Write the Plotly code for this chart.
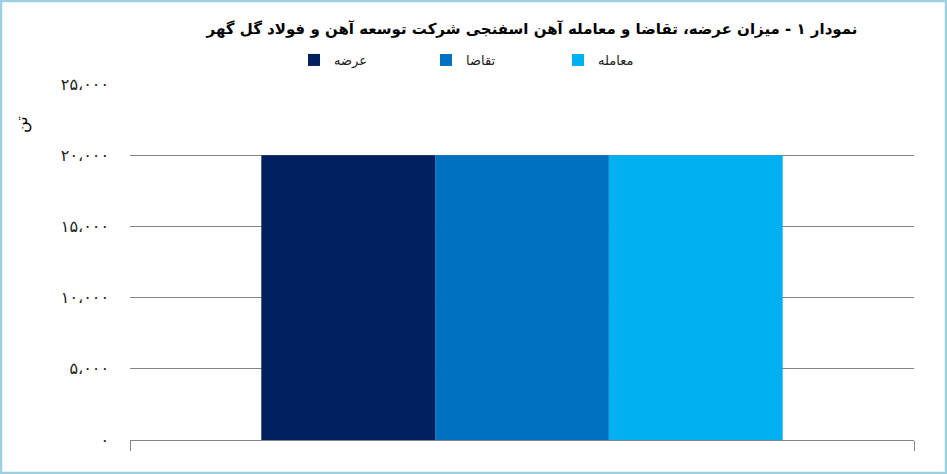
import plotly.graph_objects as go

# داده ها
categories = ["شرکت توسعه آهن و فولاد گل گهر"]
series_names = ["عرضه", "تقاضا", "معامله"]
series_values = [[20000], [20000], [20000]]
series_colors = ["#002060", "#0070C0", "#00B0F0"]

tick_vals = [0, 5000, 10000, 15000, 20000, 25000]
tick_text = ["۰", "۵،۰۰۰", "۱۰،۰۰۰", "۱۵،۰۰۰", "۲۰،۰۰۰", "۲۵،۰۰۰"]

title_text = "نمودار ۱ - میزان عرضه، تقاضا و معامله آهن اسفنجی شرکت توسعه آهن و فولاد گل گهر"
y_title = "تن"

W, H = 947, 474
L, R, T, B = 130, 33, 84, 34

fig = go.Figure()
for name, vals, col in zip(series_names, series_values, series_colors):
    fig.add_trace(go.Bar(x=categories, y=vals, name=name, marker_color=col,
                         marker_line_width=0))

pw = W - L - R
ph = H - T - B

fig.update_layout(
    width=W, height=H,
    margin=dict(l=L, r=R, t=T, b=B, autoexpand=False),
    paper_bgcolor="white", plot_bgcolor="white",
    font=dict(family="DejaVu Sans", size=13, color="#222"),
    title=dict(text="<b>" + title_text + "</b>", x=(532 - L) / pw, xref="paper",
               xanchor="center", y=1 - 29 / H, yanchor="middle",
               font=dict(size=15, color="black")),
    barmode="group", bargap=0.335, bargroupgap=0,
    showlegend=True,
    legend=dict(orientation="h", x=(492 - L) / pw, xanchor="center",
                y=1 + 24 / ph, yanchor="middle", entrywidth=87,
                font=dict(size=13, color="#222"), traceorder="normal"),
    xaxis=dict(showticklabels=False, showline=True, linecolor="#868686",
               ticks="outside", tickson="boundaries", ticklen=10,
               tickcolor="#868686", showgrid=False, automargin=False),
    yaxis=dict(range=[0, 25000], tickvals=tick_vals, ticktext=tick_text,
               showgrid=True, gridcolor="#868686", gridwidth=1,
               zeroline=False, showline=False, ticks="", ticklabelstandoff=20,
               tickfont=dict(size=16, color="#222"), automargin=False),
    annotations=[dict(text=y_title, xref="paper", yref="paper", showarrow=False,
                      x=-(L - 22) / pw, y=1 - (125 - T) / ph, textangle=-90,
                      xanchor="center", yanchor="middle",
                      font=dict(size=16, color="black"))],
    shapes=[dict(type="rect", xref="paper", yref="paper",
                 x0=-(L - 1) / pw, x1=1 + (R - 1) / pw,
                 y0=-(B - 1) / ph, y1=1 + (T - 1) / ph,
                 line=dict(color="#9ccfe0", width=2.5), layer="above")],
)

fig.write_html("out.html", config={"displayModeBar": False},
               post_script="document.body.style.margin='0';")
